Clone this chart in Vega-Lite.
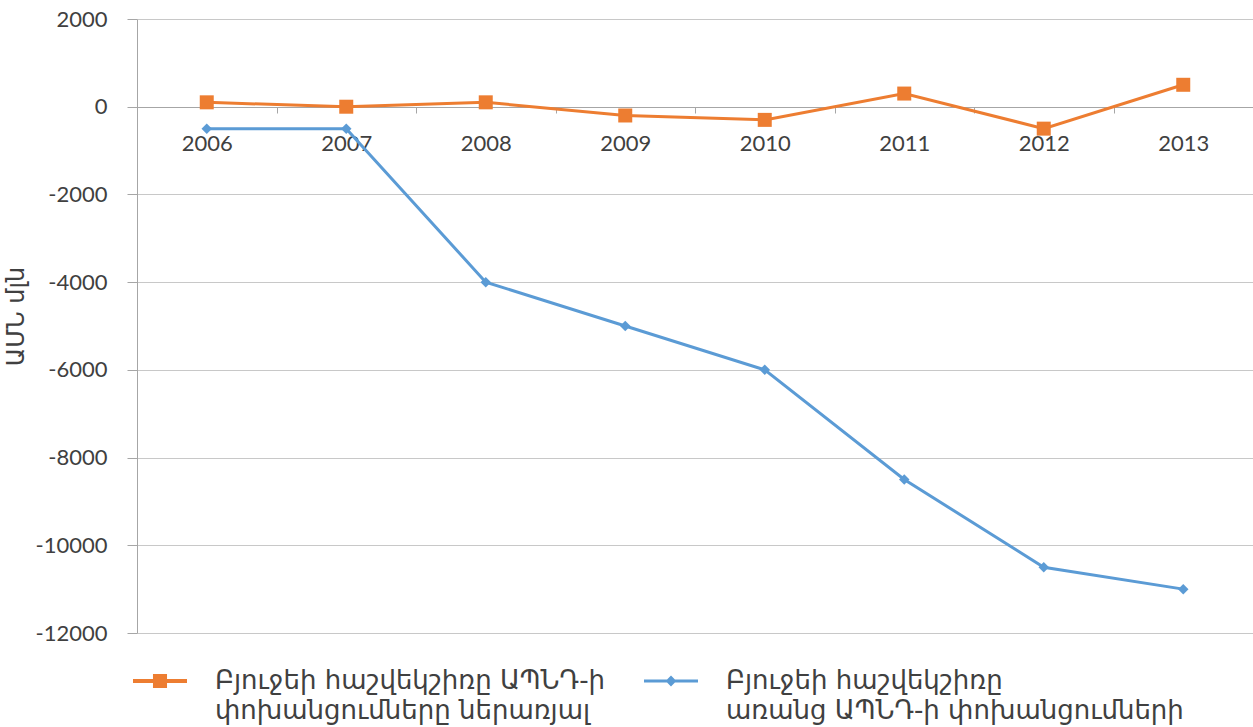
{
  "$schema": "https://vega.github.io/schema/vega-lite/v6.json",
  "width": 1116,
  "height": 614,
  "autosize": {"type": "none"},
  "padding": {"left": 137, "top": 19, "right": 0, "bottom": 94},
  "background": "white",
  "config": {"view": {"stroke": null}, "style": {"guide-label": {"lineHeight": 30}}},
  "data": {
    "values": [
      {"year": "2006", "series": "Բյուջեի հաշվեկշիռը ԱՊՆԴ-ի\nփոխանցումները ներառյալ", "value": 100},
      {"year": "2007", "series": "Բյուջեի հաշվեկշիռը ԱՊՆԴ-ի\nփոխանցումները ներառյալ", "value": 0},
      {"year": "2008", "series": "Բյուջեի հաշվեկշիռը ԱՊՆԴ-ի\nփոխանցումները ներառյալ", "value": 100},
      {"year": "2009", "series": "Բյուջեի հաշվեկշիռը ԱՊՆԴ-ի\nփոխանցումները ներառյալ", "value": -200},
      {"year": "2010", "series": "Բյուջեի հաշվեկշիռը ԱՊՆԴ-ի\nփոխանցումները ներառյալ", "value": -300},
      {"year": "2011", "series": "Բյուջեի հաշվեկշիռը ԱՊՆԴ-ի\nփոխանցումները ներառյալ", "value": 300},
      {"year": "2012", "series": "Բյուջեի հաշվեկշիռը ԱՊՆԴ-ի\nփոխանցումները ներառյալ", "value": -500},
      {"year": "2013", "series": "Բյուջեի հաշվեկշիռը ԱՊՆԴ-ի\nփոխանցումները ներառյալ", "value": 500},
      {"year": "2006", "series": "Բյուջեի հաշվեկշիռը\nառանց  ԱՊՆԴ-ի փոխանցումների", "value": -500},
      {"year": "2007", "series": "Բյուջեի հաշվեկշիռը\nառանց  ԱՊՆԴ-ի փոխանցումների", "value": -500},
      {"year": "2008", "series": "Բյուջեի հաշվեկշիռը\nառանց  ԱՊՆԴ-ի փոխանցումների", "value": -4000},
      {"year": "2009", "series": "Բյուջեի հաշվեկշիռը\nառանց  ԱՊՆԴ-ի փոխանցումների", "value": -5000},
      {"year": "2010", "series": "Բյուջեի հաշվեկշիռը\nառանց  ԱՊՆԴ-ի փոխանցումների", "value": -6000},
      {"year": "2011", "series": "Բյուջեի հաշվեկշիռը\nառանց  ԱՊՆԴ-ի փոխանցումների", "value": -8500},
      {"year": "2012", "series": "Բյուջեի հաշվեկշիռը\nառանց  ԱՊՆԴ-ի փոխանցումների", "value": -10500},
      {"year": "2013", "series": "Բյուջեի հաշվեկշիռը\nառանց  ԱՊՆԴ-ի փոխանցումների", "value": -11000}
    ]
  },
  "encoding": {
    "x": {
      "field": "year",
      "type": "ordinal",
      "bandPosition": 0.5,
      "scale": {"type": "band", "paddingInner": 0, "paddingOuter": 0},
      "axis": {
        "title": null,
        "orient": "bottom",
        "offset": -526,
        "labelAngle": 0,
        "domainColor": "#a6a6a6",
        "tickColor": "#a6a6a6",
        "tickBand": "extent",
        "tickSize": 6,
        "labelPadding": 20,
        "labelFont": "Lato",
        "labelFontSize": 22,
        "labelColor": "#404040",
        "grid": false
      }
    },
    "y": {
      "field": "value",
      "type": "quantitative",
      "scale": {"domain": [-12000, 2000], "nice": false, "zero": false},
      "axis": {
        "title": "ԱՄՆ մլն",
        "titleFont": "DejaVu Sans",
        "titleFontSize": 24,
        "titleFontWeight": "normal",
        "titleColor": "#404040",
        "titleAngle": -90,
        "titleX": -121,
        "titleY": 297,
        "titleAlign": "center",
        "titleBaseline": "middle",
        "values": [-12000, -10000, -8000, -6000, -4000, -2000, 0, 2000],
        "labelExpr": "'' + datum.value",
        "labelFont": "Lato",
        "labelFontSize": 22,
        "labelColor": "#404040",
        "labelPadding": 20,
        "tickSize": 10,
        "tickColor": "#a6a6a6",
        "domainColor": "#a6a6a6",
        "gridColor": "#c8c8c8",
        "grid": true
      }
    }
  },
  "layer": [
    {
      "transform": [{"filter": "indexof(datum.series, 'ներառյալ') >= 0"}],
      "mark": {"type": "line", "strokeWidth": 3, "color": "#ED7D31"},
      "encoding": {}
    },
    {
      "transform": [{"filter": "indexof(datum.series, 'ներառյալ') < 0"}],
      "mark": {"type": "line", "strokeWidth": 3, "color": "#5B9BD5"},
      "encoding": {}
    },
    {
      "transform": [{"filter": "indexof(datum.series, 'ներառյալ') >= 0"}],
      "mark": {"type": "point", "filled": true, "opacity": 1, "shape": "square", "size": 196},
      "encoding": {
        "color": {
          "field": "series",
          "type": "nominal",
          "scale": {"range": ["#ED7D31"]},
          "legend": {
            "title": null,
            "orient": "none",
            "legendX": -4,
            "legendY": 635,
            "labelExpr": "split(datum.label, '\\n')",
            "labelFont": "DejaVu Sans",
            "labelFontSize": 26,
            "labelColor": "#404040",
            "labelLimit": 800,
            "labelOffset": 28,
            "symbolSize": 2916,
            "symbolType": "M-1,-0.075L1,-0.075L1,0.075L-1,0.075Z M-0.26,-0.26L0.26,-0.26L0.26,0.26L-0.26,0.26Z",
            "symbolStrokeWidth": 0,
            "symbolOpacity": 1
          }
        }
      }
    },
    {
      "transform": [{"filter": "indexof(datum.series, 'ներառյալ') < 0"}],
      "mark": {"type": "point", "filled": true, "opacity": 1, "shape": "diamond", "size": 110},
      "encoding": {
        "color": {
          "field": "series",
          "type": "nominal",
          "scale": {"range": ["#5B9BD5"]},
          "legend": {
            "title": null,
            "orient": "none",
            "legendX": 507,
            "legendY": 635,
            "labelExpr": "split(datum.label, '\\n')",
            "labelFont": "DejaVu Sans",
            "labelFontSize": 26,
            "labelColor": "#404040",
            "labelLimit": 800,
            "labelOffset": 28,
            "symbolSize": 2916,
            "symbolType": "M-1,-0.055L1,-0.055L1,0.055L-1,0.055Z M0,-0.2L0.2,0L0,0.2L-0.2,0Z",
            "symbolStrokeWidth": 0,
            "symbolOpacity": 1
          }
        }
      }
    }
  ],
  "resolve": {"scale": {"color": "independent"}, "legend": {"color": "independent"}}
}
